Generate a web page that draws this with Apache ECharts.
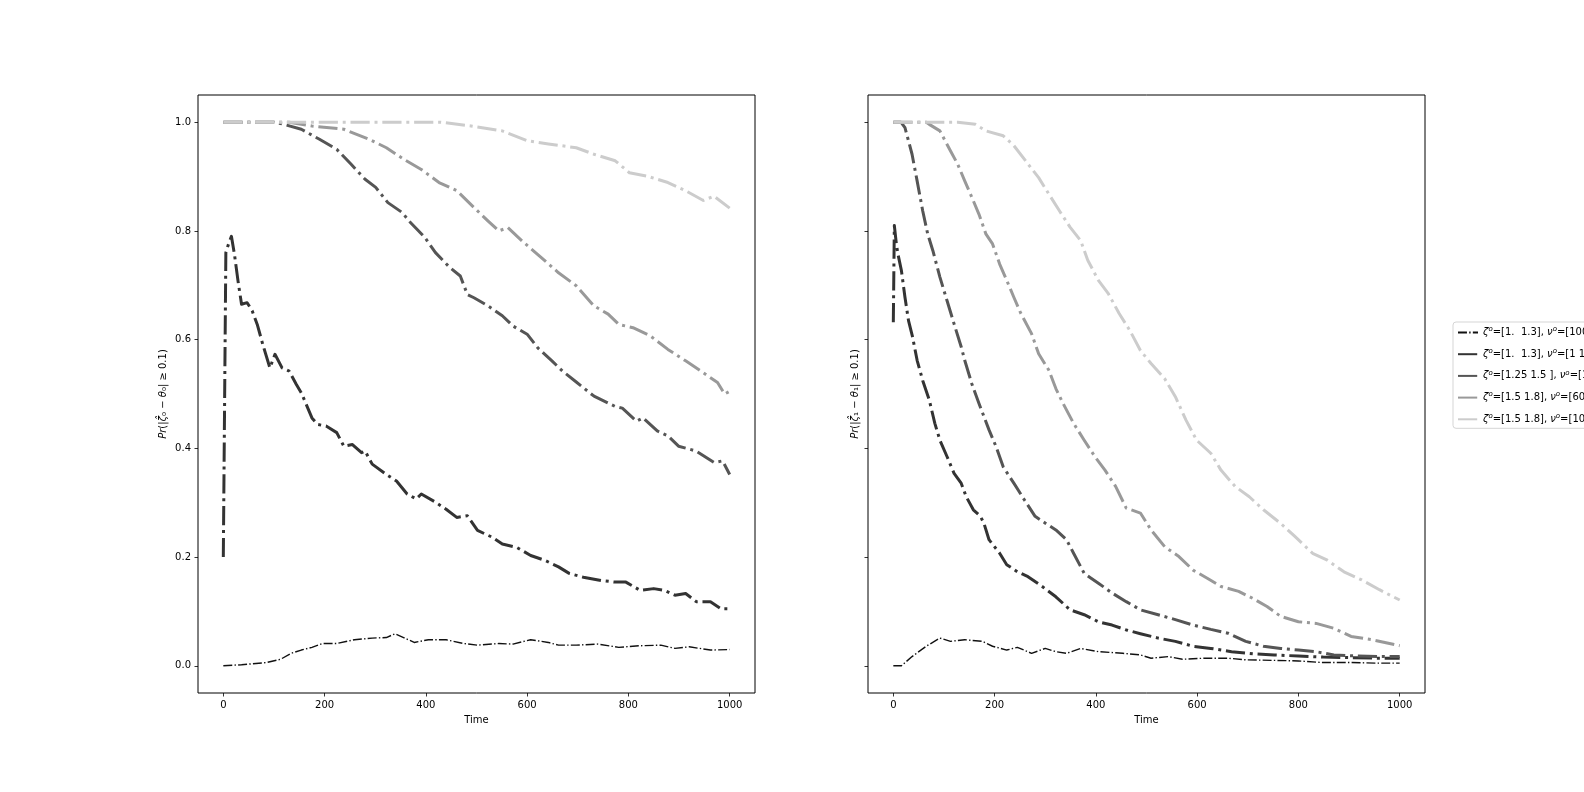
<!DOCTYPE html>
<html>
<head>
<meta charset="utf-8">
<script src="https://cdn.jsdelivr.net/npm/echarts@6/dist/echarts.min.js"></script>
<style>
html,body{margin:0;padding:0;background:#fff;}
#chart{width:1584px;height:792px;}
</style>
</head>
<body>
<div id="chart"></div>
<script>
// ---- data ----
const seriesNames = [
  'ζ°=[1.  1.3], ν°=[100 100]',
  'ζ°=[1.  1.3], ν°=[1 1]',
  'ζ°=[1.25 1.5 ], ν°=[100 100]',
  'ζ°=[1.5 1.8], ν°=[60 60]',
  'ζ°=[1.5 1.8], ν°=[100 100]'
];
const xTicks = [0, 200, 400, 600, 800, 1000];
const yTicks = [0.0, 0.2, 0.4, 0.6, 0.8, 1.0];

// left panel: Pr(|zeta_0 - theta_0| >= 0.1) over time
const left1 = [[0,0],[36,0.002],[85,0.006],[113,0.012],[134,0.023],[154,0.029],[175,0.034],[196,0.041],[224,0.041],[259,0.048],[294,0.051],[322,0.052],[339,0.059],[356,0.052],[377,0.043],[405,0.048],[440,0.048],[475,0.041],[502,0.038],[544,0.041],[572,0.040],[607,0.048],[642,0.043],[662,0.038],[697,0.038],[739,0.040],[781,0.034],[823,0.037],[864,0.038],[892,0.032],[920,0.035],[962,0.029],[1000,0.030]];
const left2 = [[0,0.20],[5,0.76],[10,0.775],[16,0.79],[22,0.757],[29,0.708],[36,0.665],[47,0.668],[57,0.653],[67,0.628],[78,0.591],[92,0.548],[102,0.573],[116,0.548],[130,0.542],[144,0.518],[154,0.502],[161,0.487],[175,0.456],[186,0.444],[203,0.441],[224,0.429],[238,0.404],[255,0.407],[273,0.392],[280,0.395],[294,0.371],[322,0.352],[342,0.340],[363,0.316],[381,0.307],[391,0.316],[419,0.301],[440,0.288],[461,0.273],[482,0.276],[502,0.249],[530,0.237],[551,0.224],[579,0.218],[607,0.203],[635,0.194],[662,0.182],[683,0.170],[711,0.163],[746,0.157],[774,0.154],[795,0.154],[823,0.139],[850,0.142],[871,0.139],[892,0.130],[913,0.133],[934,0.118],[962,0.118],[983,0.105],[1000,0.105]];
const left3 = [[0,1],[100,1],[120,0.996],[154,0.987],[189,0.969],[224,0.950],[252,0.923],[280,0.895],[301,0.880],[325,0.852],[353,0.834],[370,0.815],[398,0.788],[419,0.760],[447,0.733],[468,0.717],[482,0.683],[495,0.677],[523,0.662],[551,0.644],[572,0.625],[600,0.610],[621,0.585],[649,0.561],[670,0.542],[697,0.522],[732,0.496],[774,0.477],[788,0.474],[816,0.450],[829,0.456],[857,0.432],[878,0.423],[899,0.404],[934,0.395],[969,0.374],[986,0.377],[1000,0.352]];
const left4 = [[0,1],[130,1],[175,0.993],[238,0.987],[287,0.969],[322,0.953],[356,0.932],[391,0.913],[426,0.889],[461,0.874],[495,0.843],[523,0.818],[544,0.800],[562,0.806],[593,0.779],[628,0.751],[662,0.723],[697,0.699],[732,0.662],[760,0.647],[781,0.628],[809,0.622],[843,0.607],[878,0.582],[913,0.561],[948,0.539],[976,0.521],[990,0.500],[1000,0.505]];
const left5 = [[0,1],[430,1],[489,0.993],[551,0.984],[600,0.966],[642,0.960],[697,0.953],[732,0.941],[774,0.929],[802,0.907],[836,0.901],[878,0.889],[913,0.874],[948,0.856],[969,0.864],[1000,0.842]];

// right panel: Pr(|zeta_1 - theta_1| >= 0.1) over time
const right1 = [[0,0],[16,0],[37,0.017],[65,0.036],[92,0.051],[113,0.045],[141,0.048],[176,0.045],[196,0.036],[224,0.029],[245,0.034],[273,0.023],[300,0.032],[321,0.026],[342,0.023],[370,0.032],[405,0.026],[453,0.023],[488,0.020],[509,0.014],[543,0.017],[571,0.012],[613,0.014],[661,0.014],[696,0.011],[752,0.010],[800,0.009],[849,0.006],[904,0.006],[953,0.005],[1000,0.005]];
const right2 = [[0,0.632],[2,0.81],[6,0.776],[9,0.758],[16,0.727],[23,0.678],[30,0.635],[38,0.605],[47,0.562],[58,0.525],[71,0.489],[82,0.446],[92,0.415],[106,0.385],[120,0.354],[134,0.336],[144,0.311],[158,0.287],[172,0.275],[179,0.262],[189,0.232],[210,0.207],[224,0.186],[245,0.173],[266,0.164],[294,0.146],[321,0.127],[349,0.103],[377,0.094],[405,0.081],[432,0.075],[460,0.066],[488,0.059],[523,0.051],[557,0.045],[592,0.036],[627,0.032],[668,0.026],[710,0.022],[752,0.020],[800,0.018],[849,0.016],[904,0.015],[953,0.014],[1000,0.014]];
const right3 = [[0,1],[15,1],[23,0.99],[37,0.941],[47,0.892],[58,0.837],[68,0.794],[78,0.764],[92,0.715],[106,0.672],[120,0.629],[134,0.587],[141,0.562],[155,0.519],[169,0.483],[189,0.434],[203,0.403],[217,0.366],[238,0.336],[259,0.305],[280,0.275],[301,0.262],[321,0.250],[342,0.232],[356,0.207],[377,0.170],[405,0.152],[432,0.134],[460,0.118],[488,0.103],[523,0.094],[557,0.085],[592,0.075],[627,0.067],[661,0.060],[696,0.045],[731,0.036],[765,0.032],[800,0.029],[835,0.026],[870,0.020],[918,0.018],[960,0.017],[1000,0.017]];
const right4 = [[0,1],[65,1],[71,0.996],[92,0.984],[113,0.947],[127,0.923],[141,0.892],[155,0.862],[169,0.831],[183,0.794],[196,0.776],[210,0.739],[224,0.709],[238,0.678],[252,0.648],[273,0.611],[287,0.574],[307,0.544],[321,0.510],[335,0.483],[356,0.446],[377,0.415],[398,0.385],[418,0.360],[439,0.330],[460,0.290],[488,0.281],[509,0.250],[536,0.219],[564,0.201],[592,0.176],[620,0.161],[647,0.146],[682,0.137],[710,0.124],[738,0.109],[765,0.091],[800,0.081],[835,0.078],[870,0.069],[904,0.054],[946,0.048],[1000,0.037]];
const right5 = [[0,1],[127,1],[162,0.996],[183,0.984],[217,0.975],[238,0.957],[266,0.923],[287,0.898],[307,0.868],[328,0.837],[349,0.807],[370,0.782],[384,0.746],[405,0.709],[425,0.684],[446,0.648],[467,0.617],[488,0.580],[509,0.556],[536,0.528],[557,0.495],[578,0.452],[599,0.415],[627,0.391],[647,0.360],[675,0.330],[703,0.311],[731,0.287],[765,0.262],[793,0.238],[828,0.207],[856,0.195],[890,0.173],[925,0.158],[960,0.140],[1000,0.121]];

// ---- style ----
const FONT = 'DejaVu Sans';
const colors = ['#111111', '#333333', '#555555', '#999999', '#cccccc'];
const widths = [1.4, 3, 3, 3, 3];
function dashDot(w) { return [6.4 * w, 1.6 * w, 1.0 * w, 1.6 * w]; }

const leftData = [left1, left2, left3, left4, left5];
const rightData = [right1, right2, right3, right4, right5];

function makeSeries(dataList, idx) {
  return dataList.map((d, i) => ({
    name: seriesNames[i],
    type: 'line',
    xAxisIndex: idx,
    yAxisIndex: idx,
    data: d,
    symbol: 'none',
    silent: true,
    animation: false,
    lineStyle: { color: colors[i], width: widths[i], type: dashDot(widths[i]), cap: 'butt', join: 'round' },
    itemStyle: { color: colors[i] }
  }));
}

function xAxis(gi) {
  return {
    type: 'value', gridIndex: gi, min: -50, max: 1050,
    name: 'Time', nameLocation: 'middle', nameGap: 22,
    nameTextStyle: { fontFamily: FONT, fontSize: 10, color: '#000' },
    axisLine: { show: false, onZero: false },
    splitLine: { show: false },
    axisTick: { show: true, inside: false, length: 3.5, lineStyle: { color: '#000', width: 0.8 }, customValues: xTicks },
    axisLabel: { fontFamily: FONT, fontSize: 10, color: '#000', margin: 7, customValues: xTicks, formatter: v => String(v) }
  };
}
function yAxis(gi, nameStr, showLabels, gap) {
  return {
    type: 'value', gridIndex: gi, min: -0.05, max: 1.05,
    name: nameStr, nameLocation: 'middle', nameGap: gap, nameRotate: 90,
    nameTextStyle: { fontFamily: FONT, fontSize: 10, color: '#000',
      rich: { i: { fontFamily: FONT, fontSize: 10, fontStyle: 'italic', color: '#000' } } },
    axisLine: { show: false, onZero: false },
    splitLine: { show: false },
    axisTick: { show: true, inside: false, length: 3.5, lineStyle: { color: '#000', width: 0.8 }, customValues: yTicks },
    axisLabel: { show: showLabels, fontFamily: FONT, fontSize: 10, color: '#000', margin: 7, customValues: yTicks, formatter: v => v.toFixed(1) }
  };
}

const chart = echarts.init(document.getElementById('chart'), null, { renderer: 'canvas' });
chart.setOption({
  backgroundColor: '#fff',
  animation: false,
  grid: [
    { left: 198, top: 95, width: 557, height: 598, show: true, borderColor: '#000', borderWidth: 1, backgroundColor: 'transparent' },
    { left: 868, top: 95, width: 557, height: 598, show: true, borderColor: '#000', borderWidth: 1, backgroundColor: 'transparent' }
  ],
  xAxis: [xAxis(0), xAxis(1)],
  yAxis: [
    yAxis(0, '{i|Pr}(|{i|ζ̂}₀ − {i|θ}₀| ≥ 0.1)', true, 30),
    yAxis(1, '{i|Pr}(|{i|ζ̂}₁ − {i|θ}₁| ≥ 0.1)', false, 8)
  ],
  legend: {
    orient: 'vertical', left: 1453, top: 322,
    padding: [4, 200, 4, 4],
    itemWidth: 20, itemHeight: 10, itemGap: 10.2,
    borderColor: '#d5d5d5', borderWidth: 1, borderRadius: 3,
    backgroundColor: '#fff',
    selectedMode: false,
    itemStyle: { opacity: 0 },
    data: seriesNames,
    formatter: n => n.replace(/ζ°/g, '{i|ζ}{s|o}').replace(/ν°/g, '{i|ν}{s|o}'),
    textStyle: {
      fontFamily: FONT, fontSize: 10, color: '#000',
      rich: {
        i: { fontFamily: FONT, fontSize: 10, fontStyle: 'italic', color: '#000' },
        s: { fontFamily: FONT, fontSize: 7, fontStyle: 'italic', color: '#000', padding: [0, 0, 6, 0] }
      }
    }
  },
  series: makeSeries(leftData, 0).concat(makeSeries(rightData, 1))
});
</script>
</body>
</html>
